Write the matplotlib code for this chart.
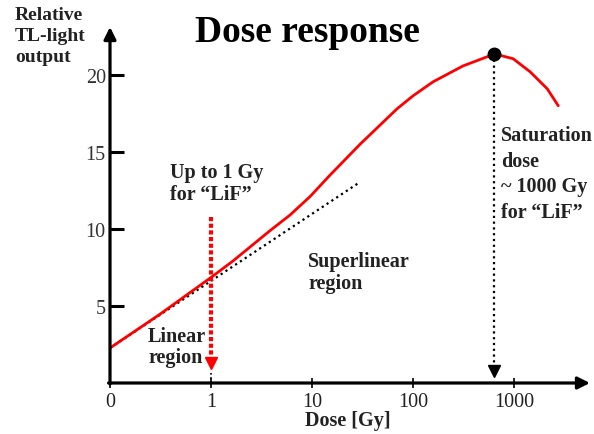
import matplotlib
matplotlib.use("Agg")
import matplotlib.pyplot as plt

# ---- data ----
# dose in Gy; the axis origin labelled "0" sits at 0.1 Gy on the log scale
dose = [0.1, 0.31, 1.0, 1.65, 3.84, 6.05, 9.55, 15.1, 29.9, 69.5, 100, 158, 313, 541,
        634, 977, 1439, 2123, 2729]
response = [2.27, 4.45, 6.85, 7.92, 9.89, 10.9, 12.1, 13.5, 15.5, 17.8, 18.64, 19.55,
            20.58, 21.17, 21.36, 21.04, 20.19, 19.09, 17.99]

linear_dose = [0.1, 29]
linear_response = [2.27, 12.99]

tick_doses = [0.1, 1, 10, 100, 1000]
tick_labels = ["0", "1", "10", "100", "1000"]
y_ticks = [5, 10, 15, 20]

linear_limit_dose = 1
linear_arrow_top = 10.8
linear_arrow_tip = 1.0
saturation_dose = 634
saturation_response = 21.36

serif = ["Liberation Serif", "DejaVu Serif"]
plt.rcParams["font.family"] = serif

W, H = 594, 435
fig = plt.figure(figsize=(W / 100, H / 100), dpi=100)
ax = fig.add_axes([110 / W, (435 - 384) / H, (590 - 110) / W, (384 - 28) / H])
ax.set_xscale("log")
ax.set_xlim(0.1, 10 ** 3.75)
ax.set_ylim(0, 23.1)
ax.patch.set_alpha(0)
for s in ax.spines.values():
    s.set_visible(False)

# axis lines with arrows
ax.annotate("", xy=(1.0, 0), xytext=(-0.003, 0), xycoords="axes fraction",
            arrowprops=dict(arrowstyle="-|>", color="black", lw=2.3, mutation_scale=18,
                            shrinkA=0, shrinkB=0), zorder=5)
ax.annotate("", xy=(0, 1.0), xytext=(0, -0.003), xycoords="axes fraction",
            arrowprops=dict(arrowstyle="-|>", color="black", lw=2.3, mutation_scale=18,
                            shrinkA=0, shrinkB=0), zorder=5)

# ticks
ax.set_xticks(tick_doses)
ax.set_xticklabels(tick_labels)
ax.xaxis.set_minor_locator(matplotlib.ticker.NullLocator())
ax.tick_params(axis="x", direction="inout", length=7, width=1.2, labelsize=14.5, pad=3)
ax.set_yticks(y_ticks)
ax.set_yticklabels([str(v) for v in y_ticks])
ax.tick_params(axis="y", direction="in", length=10, width=2.2, labelsize=14.5, pad=3)
for lab in ax.get_yticklabels():
    lab.set_color("#333333")
for lab in ax.get_xticklabels():
    lab.set_color("#222222")

# curves
ax.plot(linear_dose, linear_response, color="black", lw=1.6, ls=(0, (1, 1.6)), zorder=3)
ax.plot(dose, response, color="red", lw=2.0, zorder=4, solid_capstyle="round",
        solid_joinstyle="round")

# linear limit arrow (red dotted)
ax.plot([linear_limit_dose, linear_limit_dose], [linear_arrow_top, linear_arrow_tip + 0.4],
        color="red", lw=3, ls=(0, (1, 0.6)), zorder=4)
ax.plot([linear_limit_dose], [linear_arrow_tip + 0.3], marker="v", color="red",
        markersize=9, zorder=5)
ax.plot([linear_limit_dose, linear_limit_dose], [0, linear_arrow_tip - 0.2],
        color="black", lw=1.2, ls=(0, (1, 1.5)), zorder=3)

# saturation arrow (black dotted)
ax.plot([saturation_dose, saturation_dose], [saturation_response, 0.9],
        color="black", lw=1.6, ls=(0, (1, 1.6)), zorder=3)
ax.plot([saturation_dose], [0.75], marker="v", color="black", markersize=8, zorder=5)
ax.plot([saturation_dose], [saturation_response], marker="o", color="black",
        markersize=9, zorder=6)

# texts
bold = dict(fontweight="bold", color="#222222")
fig.text(15 / W, 1 - 7 / H, "Relative\nTL-light\noutput", ha="left", va="top",
         fontsize=14, linespacing=1.3, **bold)
fig.text(307 / W, 1 - 33 / H, "Dose response", ha="center", va="center",
         fontsize=27, fontweight="bold", color="black")
fig.text(170 / W, 1 - 163 / H, "Up to 1 Gy\nfor \u201cLiF\u201d", ha="left", va="top",
         fontsize=14.5, linespacing=1.1, **bold)
fig.text(308 / W, 1 - 252 / H, "Superlinear\nregion", ha="left", va="top",
         fontsize=14.5, linespacing=1.1, **bold)
fig.text(148 / W, 1 - 327 / H, "Linear\nregion", ha="left", va="top",
         fontsize=14.5, linespacing=1.1, **bold)
fig.text(501 / W, 1 - 126 / H, "Saturation\ndose\n~ 1000 Gy\nfor \u201cLiF\u201d", ha="left", va="top",
         fontsize=14.5, linespacing=1.38, **bold)
fig.text(305 / W, 1 - 421 / H, "Dose [Gy]", ha="left", va="center",
         fontsize=14.5, **bold)

fig.savefig("out.png", dpi=100)
